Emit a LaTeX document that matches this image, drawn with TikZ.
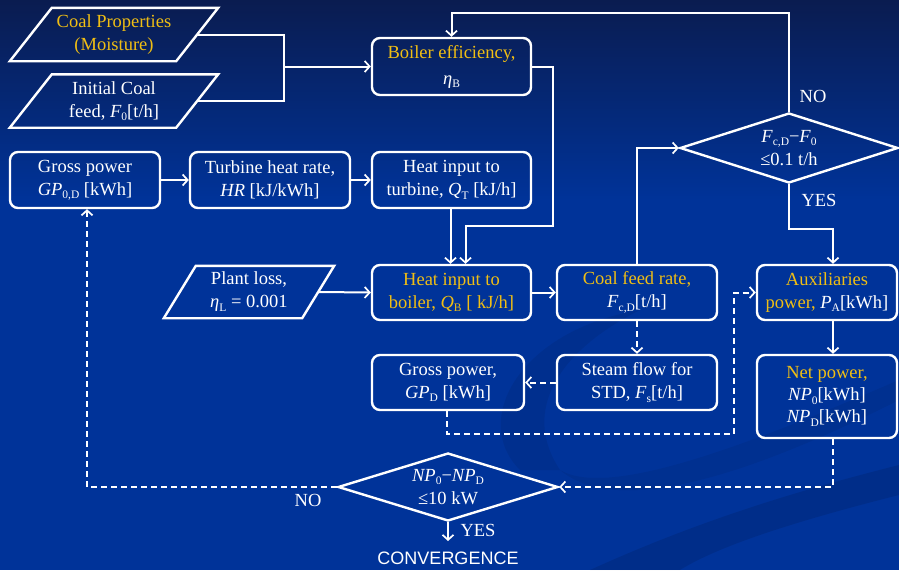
\documentclass[tikz,border=0pt]{standalone}
\usepackage{fontspec}
\setmainfont{Liberation Serif}
\setsansfont{Liberation Sans}
\usetikzlibrary{arrows.meta,shapes.geometric}
\definecolor{bgblue}{RGB}{0,51,153}
\definecolor{bgtop}{RGB}{10,28,80}
\definecolor{gold}{RGB}{240,190,20}
\newcommand\lsub[1]{\raisebox{-0.4ex}{\fontsize{11.5}{11.5}\selectfont #1}}
\newcommand\drawpara[2]{\draw[paraline] ([xshift=#2]#1.north west) -- ([xshift=#2]#1.north east) -- ([xshift=-#2]#1.south east) -- ([xshift=-#2]#1.south west) -- cycle;}
\begin{document}
\begin{tikzpicture}[x=1pt,y=-1pt,
  every node/.style={text=white,font=\fontsize{18.5}{23}\selectfont},
  box/.style={draw=white,line width=2.4pt,rounded corners=8pt,align=center,inner sep=0pt},
  ptext/.style={align=center,inner sep=0pt},
  paraline/.style={draw=white,line width=2.4pt,line join=miter},
  dia/.style={draw=white,line width=2.4pt,shape=diamond,inner sep=0pt,minimum width=#1},
  conn/.style={draw=white,line width=2pt,-{Straight Barb[length=5pt,width=11pt,line width=1.7pt]}},
  dconn/.style={conn,dash pattern=on 6pt off 4pt},
  lbl/.style={inner sep=0pt}]
% background
\useasboundingbox (0,0) rectangle (899,570);
\fill[bgblue] (0,0) rectangle (899,570);
\shade[top color=bgtop,bottom color=bgblue] (0,0) rectangle (899,200);
\fill[black,opacity=0.10] (590,570) .. controls (700,520) and (800,490) .. (899,465) -- (899,495) .. controls (800,520) and (720,545) .. (680,570) -- cycle;
\fill[black,opacity=0.07] (520,470) .. controls (470,420) and (520,330) .. (640,310) .. controls (560,350) and (520,410) .. (560,470) -- cycle;
\fill[black,opacity=0.06] (560,470) .. controls (610,500) and (760,440) .. (899,380) -- (899,400) .. controls (760,470) and (620,520) .. (560,470) -- cycle;

% nodes
\node[ptext,minimum width=166pt,minimum height=53pt] (cp) at (114,34.5) {\textcolor{gold}{Coal Properties}\\\textcolor{gold}{(Moisture)}};
\drawpara{cp}{21pt}
\node[ptext,minimum width=166pt,minimum height=53pt] (icf) at (114,101) {Initial Coal\\feed, \textit{F}\lsub{0}[t/h]};
\drawpara{icf}{21pt}
\node[ptext,minimum width=138pt,minimum height=52pt] (pl) at (249,292) {Plant loss,\\\textit{η}\lsub{L} = 0.001};
\drawpara{pl}{16pt}

\node[box,minimum width=159pt,minimum height=57pt] (be) at (451.5,66.5) {\textcolor{gold}{Boiler efficiency,}\\[3pt]\textit{η}\lsub{B}};
\node[box,minimum width=150pt,minimum height=56pt] (gp0) at (85,180) {Gross power\\\textit{GP}\lsub{0,D} [kWh]};
\node[box,minimum width=160pt,minimum height=56pt] (thr) at (270,180) {Turbine heat rate,\\\textit{HR} [kJ/kWh]};
\node[box,minimum width=159pt,minimum height=56pt] (hit) at (451.5,180) {Heat input to\\turbine, \textit{Q}\lsub{T} [kJ/h]};
\node[box,minimum width=159pt,minimum height=55pt,text=gold] (hib) at (451.5,292.5) {Heat input to\\boiler, \textit{Q}\lsub{B} [ kJ/h]};
\node[box,minimum width=160pt,minimum height=55pt] (cfr) at (637,292.5) {\textcolor{gold}{Coal feed rate,}\\\textit{F}\lsub{c,D}[t/h]};
\node[box,minimum width=140pt,minimum height=55pt] (aux) at (827,292.5) {\textcolor{gold}{Auxiliaries}\\\textcolor{gold}{power,} \textit{P}\lsub{A}[kWh]};
\node[box,minimum width=160pt,minimum height=55pt] (sf) at (637,382.5) {Steam flow for\\STD, \textit{F}\lsub{s}[t/h]};
\node[box,minimum width=152pt,minimum height=55pt] (gpd) at (448,382.5) {Gross power,\\\textit{GP}\lsub{D} [kWh]};
\node[box,minimum width=140pt,minimum height=83pt,font=\fontsize{18.5}{22}\selectfont] (np) at (827,396.5) {\textcolor{gold}{Net power,}\\\textit{NP}\lsub{0}[kWh]\\\textit{NP}\lsub{D}[kWh]};

\node[dia=218pt,minimum height=70pt] (d1) at (789,148) {};
\node[ptext] (d1t) at (789,148) {\textit{F}\lsub{c,D}−\textit{F}\lsub{0}\\≤0.1 t/h};
\node[dia=220pt,minimum height=68pt] (d2) at (448,487) {};
\node[ptext] (d2t) at (448,487) {\textit{NP}\lsub{0}−\textit{NP}\lsub{D}\\≤10 kW};

\node[lbl] (no1) at (813,96) {NO};
\node[lbl] (yes1) at (819,200) {YES};
\node[lbl] (no2) at (308,500) {NO};
\node[lbl] (yes2) at (478,530) {YES};
\node[lbl,font=\sffamily\fontsize{18}{20}\selectfont] (conv) at (448,558) {CONVERGENCE};

% coordinates
\coordinate (j1) at (284,66.5);
\coordinate (c1) at (553,226);
\coordinate (c2) at (734,434);
\coordinate (convtop) at (448,541);

% connectors
\draw[draw=white,line width=2pt] (cp.east) -| (j1) |- (icf.east);
\draw[conn] (j1) -- (be.west);
\draw[conn] (d1.north) |- ([yshift=24pt]be.north) -- (be.north);
\draw[conn] (be.east) -| (c1) -| ([xshift=14pt]hib.north);
\draw[conn] ([xshift=-1pt]hit.south) -- ([xshift=-1pt]hib.north);
\draw[conn] (gp0) -- (thr);
\draw[conn] (thr) -- (hit);
\draw[conn] (pl.east) -- (hib.west);
\draw[conn] (hib) -- (cfr);
\draw[conn] (cfr.north) |- (d1.west);
\draw[conn] (d1.south) |- ([xshift=6pt,yshift=35pt]aux.north) -- ([xshift=6pt]aux.north);
\draw[dconn] (cfr.south) -- (sf.north);
\draw[dconn] (sf.west) -- (gpd.east);
\draw[dconn] ([xshift=-1pt]gpd.south) |- (c2) |- (aux.west);
\draw[conn] ([xshift=6pt]aux.south) -- ([xshift=6pt]np.north);
\draw[dconn] ([xshift=6pt]np.south) |- (d2.east);
\draw[dconn] (d2.west) -| ([xshift=2pt]gp0.south);
\draw[conn] (d2.south) -- (convtop);
\end{tikzpicture}
\end{document}
